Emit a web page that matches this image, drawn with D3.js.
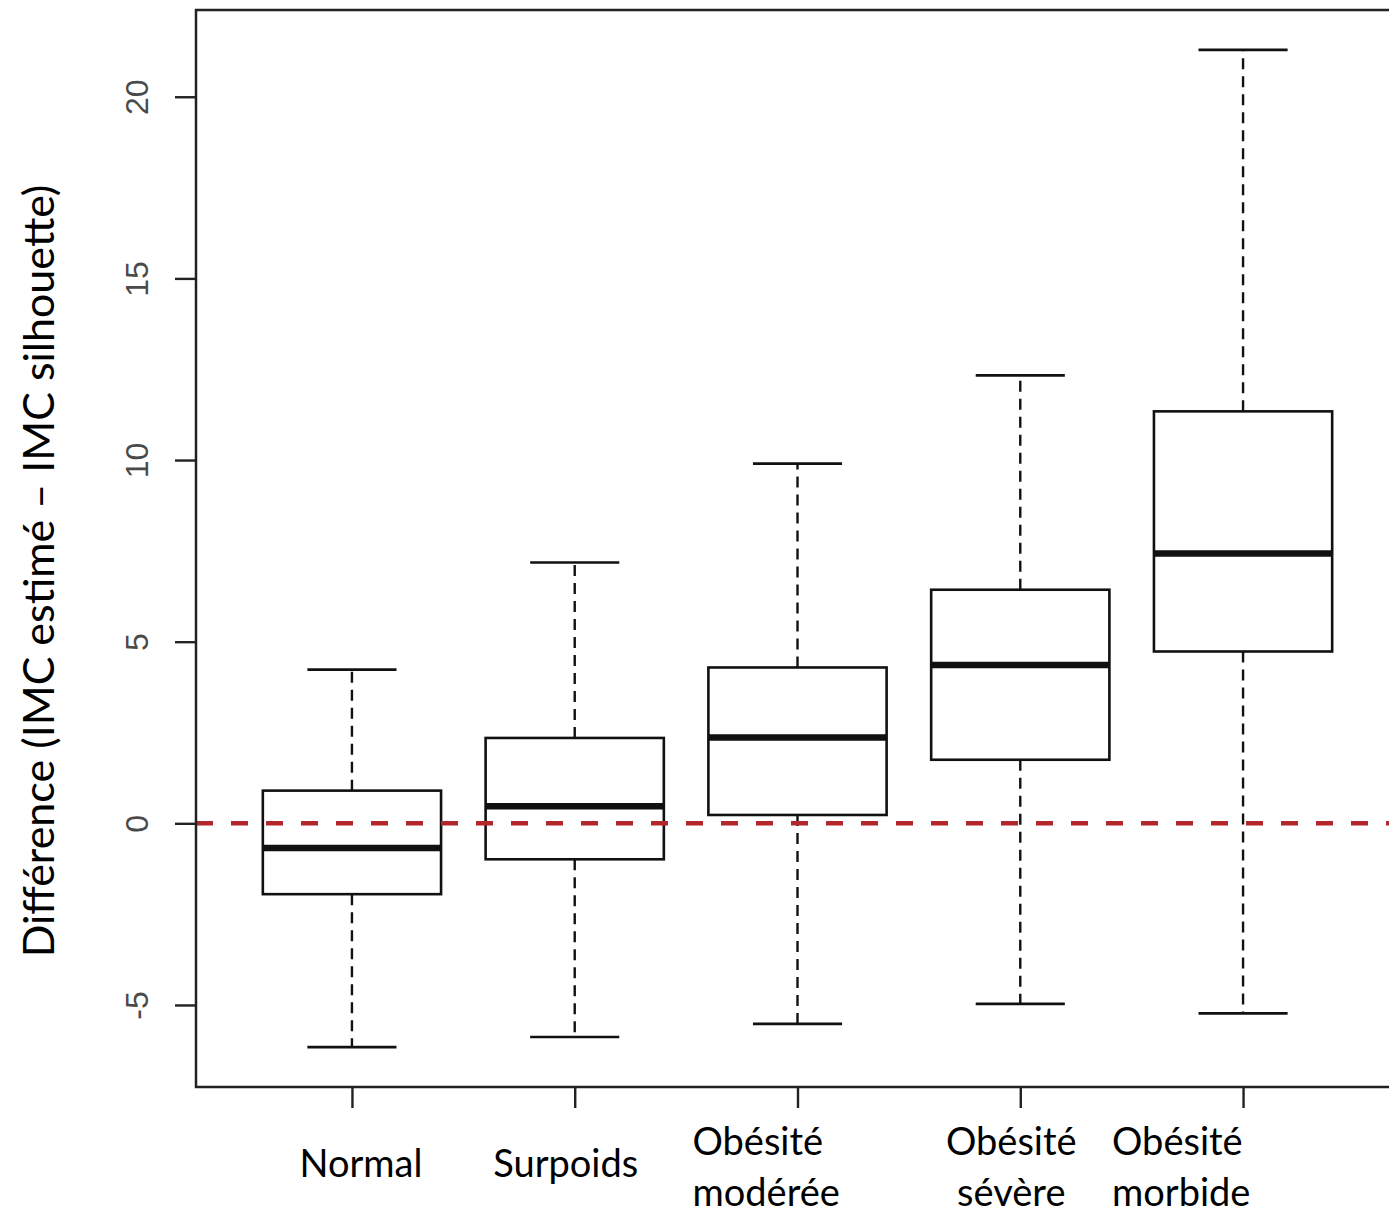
<!DOCTYPE html>
<html>
<head>
<meta charset="utf-8">
<script src="https://cdn.jsdelivr.net/npm/d3@7"></script>
<style>
  html, body { margin: 0; padding: 0; background: #fff; }
  svg { display: block; }
</style>
</head>
<body>
<div id="chart"></div>
<script>
// Data (boxplot five-number summaries per BMI group)
const categories = [['Normal'], ['Surpoids'], ['Obésité', 'modérée'], ['Obésité', 'sévère'], ['Obésité', 'morbide']];
const whiskerLow = [-6.16, -5.88, -5.52, -4.97, -5.23];
const q1 = [-1.95, -0.99, 0.23, 1.75, 4.73];
const medians = [-0.68, 0.47, 2.36, 4.36, 7.43];
const q3 = [0.90, 2.35, 4.29, 6.43, 11.34];
const whiskerHigh = [4.23, 7.18, 9.90, 12.33, 21.29];
const yTicks = [-5, 0, 5, 10, 15, 20];
const refLine = 0;
const yTitle = 'Différence (IMC estimé – IMC silhouette)';

const width = 1389, height = 1220;
const margin = { top: 10, left: 196, right: -10, bottom: 133 };

// label placement relative to each category tick (text box overlay in the original)
const labelLayout = [
  { anchor: 'middle', dx: 9 },
  { anchor: 'middle', dx: -9 },
  { anchor: 'start', dx: -105 },
  { anchor: 'middle', dx: -9 },
  { anchor: 'start', dx: -131 }
];

const svg = d3.select('#chart').append('svg')
  .attr('width', width)
  .attr('height', height);

const n = categories.length;
// R-style: x from 0.5..n+0.5 widened by 4%, y data range widened by 4%
const x = d3.scaleLinear()
  .domain([0.5 - 0.04 * n, n + 0.5 + 0.04 * n])
  .range([margin.left, width - margin.right]);

const lo = d3.min(whiskerLow), hi = d3.max(whiskerHigh);
const pad = (hi - lo) * 0.04;
const y = d3.scaleLinear()
  .domain([lo - pad, hi + pad])
  .range([height - margin.bottom, margin.top]);

const ink = '#111';
const boxes = d3.range(n).map(i => ({
  i: i + 1, lo: whiskerLow[i], q1: q1[i], med: medians[i], q3: q3[i], hi: whiskerHigh[i]
}));
const halfBox = 0.4, halfCap = 0.2;

const g = svg.append('g');

// whiskers
g.selectAll('.wlo').data(boxes).enter().append('line')
  .attr('x1', d => x(d.i)).attr('x2', d => x(d.i))
  .attr('y1', d => y(d.q1)).attr('y2', d => y(d.lo))
  .attr('stroke', ink).attr('stroke-width', 2.4).attr('stroke-dasharray', '11,7');
g.selectAll('.whi').data(boxes).enter().append('line')
  .attr('x1', d => x(d.i)).attr('x2', d => x(d.i))
  .attr('y1', d => y(d.q3)).attr('y2', d => y(d.hi))
  .attr('stroke', ink).attr('stroke-width', 2.4).attr('stroke-dasharray', '11,7');

// caps
['lo', 'hi'].forEach(k => {
  g.selectAll('.cap-' + k).data(boxes).enter().append('line')
    .attr('x1', d => x(d.i - halfCap)).attr('x2', d => x(d.i + halfCap))
    .attr('y1', d => y(d[k])).attr('y2', d => y(d[k]))
    .attr('stroke', ink).attr('stroke-width', 2.6);
});

// boxes
g.selectAll('.box').data(boxes).enter().append('rect')
  .attr('x', d => x(d.i - halfBox))
  .attr('width', d => x(d.i + halfBox) - x(d.i - halfBox))
  .attr('y', d => y(d.q3))
  .attr('height', d => y(d.q1) - y(d.q3))
  .attr('fill', '#fff')
  .attr('stroke', ink).attr('stroke-width', 2.6);

// medians
g.selectAll('.med').data(boxes).enter().append('line')
  .attr('x1', d => x(d.i - halfBox)).attr('x2', d => x(d.i + halfBox))
  .attr('y1', d => y(d.med)).attr('y2', d => y(d.med))
  .attr('stroke', ink).attr('stroke-width', 6.5);

// reference line at 0
svg.append('line')
  .attr('x1', x.range()[0]).attr('x2', x.range()[1])
  .attr('y1', y(refLine)).attr('y2', y(refLine))
  .attr('stroke', '#b3262b').attr('stroke-width', 4.5)
  .attr('stroke-dasharray', '17,18');

// frame
svg.append('rect')
  .attr('x', x.range()[0]).attr('y', y.range()[1])
  .attr('width', x.range()[1] - x.range()[0])
  .attr('height', y.range()[0] - y.range()[1])
  .attr('fill', 'none').attr('stroke', '#222').attr('stroke-width', 2.5);

// Y axis
const yAxis = svg.append('g')
  .attr('transform', `translate(${margin.left},0)`)
  .call(d3.axisLeft(y).tickValues(yTicks).tickSize(21).tickFormat(d => String(d)));
yAxis.select('.domain').remove();
yAxis.selectAll('line').attr('stroke', '#222').attr('stroke-width', 2.4);
yAxis.selectAll('text')
  .attr('x', null).attr('dy', null)
  .attr('text-anchor', 'middle')
  .attr('dominant-baseline', 'central')
  .attr('transform', 'translate(-59,0) rotate(-90)')
  .style('font-family', '"Liberation Sans", Arial, sans-serif')
  .style('font-size', '32px')
  .attr('fill', '#4a4a4a');

// X axis (ticks only, labels drawn below as text boxes)
const xAxis = svg.append('g')
  .attr('transform', `translate(0,${height - margin.bottom})`)
  .call(d3.axisBottom(x).tickValues(d3.range(1, n + 1)).tickSize(21).tickFormat(''));
xAxis.select('.domain').remove();
xAxis.selectAll('line').attr('stroke', '#222').attr('stroke-width', 2.4);

// category labels
const labelFont = 'Lato, "Open Sans", sans-serif';
categories.forEach((lines, i) => {
  const lay = labelLayout[i];
  const t = svg.append('text')
    .attr('x', x(i + 1) + lay.dx)
    .attr('text-anchor', lay.anchor)
    .style('font-family', labelFont)
    .style('font-size', '38px')
    .attr('fill', '#000');
  if (lines.length === 1) {
    t.attr('y', 1177).text(lines[0]);
  } else {
    lines.forEach((s, k) => {
      t.append('tspan').attr('x', x(i + 1) + lay.dx).attr('y', 1155 + k * 51).text(s);
    });
  }
});

// y title
svg.append('text')
  .attr('transform', `translate(54,571) rotate(-90)`)
  .attr('text-anchor', 'middle')
  .style('font-family', labelFont)
  .style('font-size', '43px')
  .attr('fill', '#000')
  .text(yTitle);
</script>
</body>
</html>
